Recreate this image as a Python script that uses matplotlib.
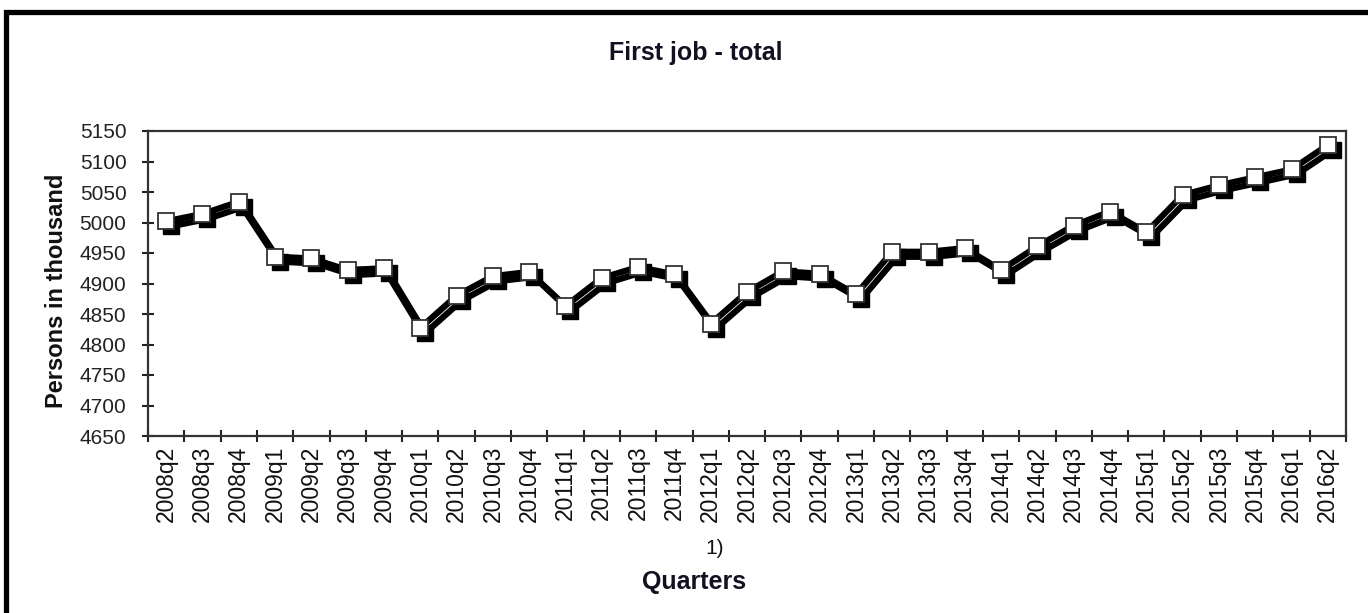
import matplotlib
matplotlib.use("Agg")
import matplotlib.pyplot as plt
import matplotlib.transforms as mtransforms
from matplotlib.patches import Rectangle

plt.rcParams['font.family'] = ['Liberation Sans', 'DejaVu Sans']

# Data
quarters = ["2008q2", "2008q3", "2008q4",
            "2009q1", "2009q2", "2009q3", "2009q4",
            "2010q1", "2010q2", "2010q3", "2010q4",
            "2011q1", "2011q2", "2011q3", "2011q4",
            "2012q1", "2012q2", "2012q3", "2012q4",
            "2013q1", "2013q2", "2013q3", "2013q4",
            "2014q1", "2014q2", "2014q3", "2014q4",
            "2015q1", "2015q2", "2015q3", "2015q4",
            "2016q1", "2016q2"]
persons = [5002, 5014, 5034,
           4944, 4941, 4922, 4925,
           4827, 4880, 4912, 4919,
           4863, 4909, 4927, 4915,
           4834, 4886, 4920, 4916,
           4882, 4952, 4952, 4958,
           4922, 4961, 4995, 5018,
           4984, 5045, 5061, 5074,
           5087, 5127]
y_ticks = list(range(4650, 5151, 50))
footnote_quarter = "2012q1"

fig = plt.figure(figsize=(13.68, 6.13), dpi=100)
ax = fig.add_axes([148/1368, 1 - 436/613, (1346-148)/1368, (436-131)/613])

x = list(range(len(quarters)))

# shadow of the series
shadow = ax.transData + mtransforms.ScaledTranslation(5/100, -5/100, fig.dpi_scale_trans)
ax.plot(x, persons, color="black", lw=4.5, marker="s", markersize=11.5,
        markerfacecolor="black", markeredgecolor="black", transform=shadow,
        zorder=2, clip_on=False)
# main series
ax.plot(x, persons, color="black", lw=4.5, marker="s", markersize=11.5,
        markerfacecolor="white", markeredgecolor="#333333", markeredgewidth=1.3,
        zorder=3, clip_on=False)

ax.set_xlim(-0.5, len(quarters) - 0.5)
ax.set_ylim(4650, 5150)
ax.set_yticks(y_ticks)
ax.set_xticks(x)
ax.set_xticklabels(quarters, rotation=90)
ax.set_xticks([i - 0.5 for i in range(len(quarters) + 1)], minor=True)
ax.tick_params(axis="x", which="major", length=0, pad=7, labelsize=16.5, colors="#111111")
ax.tick_params(axis="x", which="minor", direction="inout", length=9, width=1.5, color="#222222")
ax.tick_params(axis="y", direction="inout", length=9, width=1.5, pad=11,
               labelsize=15, colors="#111111")
ax.tick_params(axis="y", colors="#222222")
for s in ax.spines.values():
    s.set_linewidth(1.6)
    s.set_color("#333333")

fig.text(696/1368, 1 - 53/613, "First job - total", ha="center", va="center",
         fontsize=18, fontweight="bold", color="#111122")
fig.text(57/1368, 1 - 291/613, "Persons in thousand", ha="center", va="center",
         rotation=90, fontsize=17, fontweight="bold", color="#111111")
fig.text(694/1368, 1 - 582/613, "Quarters", ha="center", va="center",
         fontsize=18, fontweight="bold", color="#111122")

# footnote marker under 2012q1
blend = mtransforms.blended_transform_factory(ax.transData, fig.transFigure)
ax.text(quarters.index(footnote_quarter) + 0.1, 1 - 549/613, "1)", transform=blend,
        ha="center", va="center", fontsize=15, color="#111111")

# outer frame
fig.patches.append(Rectangle((5.5/1368, -0.1), 1.2, (613 - 11.5)/613 + 0.1,
                             transform=fig.transFigure, fill=False,
                             edgecolor="black", linewidth=3.8))

fig.savefig("out.png", dpi=100)
